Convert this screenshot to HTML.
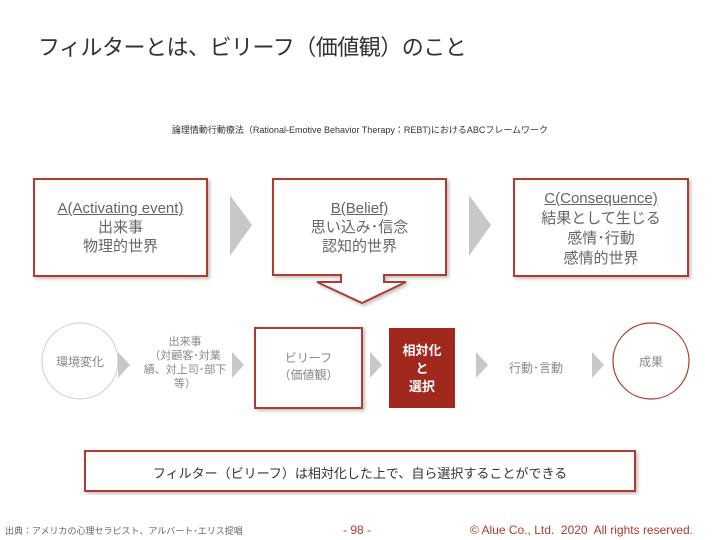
<!DOCTYPE html>
<html><head><meta charset="utf-8"><style>
body{margin:0;width:720px;height:540px;position:relative;background:#fff;font-family:"Liberation Sans","Noto Sans CJK JP",sans-serif;overflow:hidden}
.t{position:absolute;white-space:nowrap}
.c{text-align:center}
</style></head><body>
<svg width="720" height="540" style="position:absolute;left:0;top:0">
<defs><filter id="s"><feDropShadow dx="2" dy="2" stdDeviation="1.5" flood-color="#999" flood-opacity="0.6"/></filter></defs>
<rect x="34" y="179" width="173" height="97" fill="#fff" stroke="#b03a2e" stroke-width="2" filter="url(#s)"/>
<path d="M341,275 L273,275 L273,179 L446,179 L446,275 L384,275 L384,282 L406,282 L362,303 L317,282 L341,282 Z" fill="#fff" stroke="#b03a2e" stroke-width="2" filter="url(#s)"/>
<rect x="514" y="179" width="174" height="97" fill="#fff" stroke="#b03a2e" stroke-width="2" filter="url(#s)"/>
<polygon points="230,195 252,225 230,256" fill="#c8c8c8"/>
<polygon points="469,195 491,225 469,256" fill="#c8c8c8"/>
<circle cx="80" cy="361" r="38" fill="#fff" stroke="#ccc" stroke-width="1"/>
<circle cx="651" cy="361" r="38" fill="#fff" stroke="#b03a2e" stroke-width="1.2"/>
<rect x="255" y="328" width="107" height="80" fill="#fff" stroke="#b03a2e" stroke-width="2" filter="url(#s)"/>
<rect x="389" y="328" width="66" height="80" fill="#a0281c"/>
<g fill="#c8c8c8">
<polygon points="118,352 130,365 118,378"/>
<polygon points="232,352 244,365 232,378"/>
<polygon points="370,352 382,365 370,378"/>
<polygon points="476,352 488,365 476,378"/>
<polygon points="592,352 604,365 592,378"/>
</g>
<rect x="85" y="451" width="550" height="40" fill="#fff" stroke="#b03a2e" stroke-width="2" filter="url(#s)"/>
</svg>
<div class="t" style="left:38px;top:30px;font-size:22px;color:#333;letter-spacing:-0.5px">フィルターとは、ビリーフ（価値観）のこと</div>
<div class="t c" style="left:0;width:720px;top:123px;font-size:9px;color:#333">論理情動行動療法（Rational-Emotive Behavior Therapy：REBT)におけるABCフレームワーク</div>
<div class="t c" style="left:34px;width:173px;top:199px;font-size:15px;line-height:19px;color:#666"><u>A(Activating event)</u><br>出来事<br>物理的世界</div>
<div class="t c" style="left:273px;width:173px;top:199px;font-size:15px;line-height:19px;color:#666"><u>B(Belief)</u><br>思い込み･信念<br>認知的世界</div>
<div class="t c" style="left:514px;width:174px;top:189px;font-size:15px;line-height:20px;color:#666"><u>C(Consequence)</u><br>結果として生じる<br>感情･行動<br>感情的世界</div>
<div class="t c" style="left:42px;width:76px;top:353px;font-size:12px;color:#888">環境変化</div>
<div class="t c" style="left:138px;width:94px;top:335px;font-size:11px;line-height:14px;color:#888">出来事<br>（対顧客･対業<br>績、対上司･部下<br>等）</div>
<div class="t c" style="left:255px;width:107px;top:350px;font-size:12px;line-height:17px;color:#888">ビリーフ<br>（価値観）</div>
<div class="t c" style="left:389px;width:66px;top:342px;font-size:13px;line-height:18px;color:#fff;font-weight:bold">相対化<br>と<br>選択</div>
<div class="t c" style="left:500px;width:72px;top:359px;font-size:12px;color:#888">行動･言動</div>
<div class="t c" style="left:613px;width:76px;top:353px;font-size:12px;color:#888">成果</div>
<div class="t c" style="left:85px;width:550px;top:463px;font-size:13px;color:#333">フィルター（ビリーフ）は相対化した上で、自ら選択することができる</div>
<div class="t" style="left:5px;top:524px;font-size:9px;color:#666">出典：アメリカの心理セラピスト、アルバート･エリス提唱</div>
<div class="t" style="left:343px;top:523px;font-size:12px;color:#b03a2e">- 98 -</div>
<div class="t" style="left:470px;top:523px;font-size:12px;color:#b03a2e">© Alue Co., Ltd.&nbsp; 2020&nbsp; All rights reserved.</div>
</body></html>
